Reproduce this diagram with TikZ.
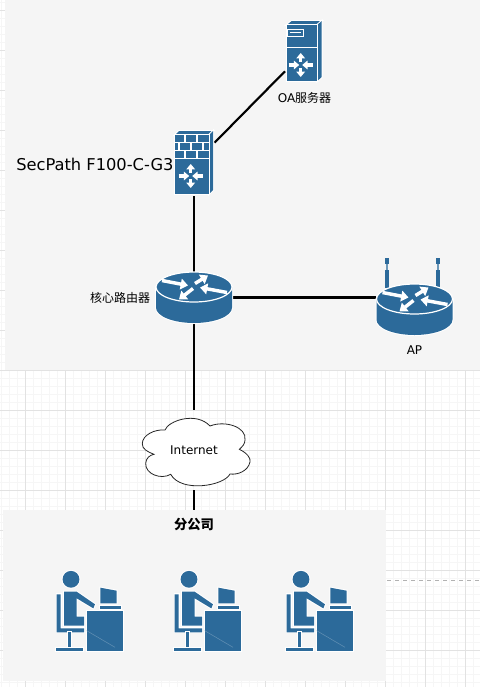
\documentclass[tikz,border=0pt]{standalone}
\usepackage{fontspec}
\setmainfont{DejaVu Sans}
\newfontfamily\cjk{Noto Sans CJK SC}
\usetikzlibrary{arrows.meta}
\definecolor{iconblue}{HTML}{2C6A9A}
\definecolor{panelgray}{HTML}{F5F5F5}
\definecolor{gridmajor}{HTML}{E2E2E2}
\definecolor{gridminor}{HTML}{F6F6F6}
\tikzset{
	icon/.style={fill=iconblue, preaction={draw=white, line width=1.5pt}},
	wharrow/.style={white, line width=2.3pt, -{Triangle[width=6.4pt,length=4pt]}},
	rtarrow/.style={white, line width=2.6pt, -{Triangle[width=8pt,length=5.5pt]}},
	anchorbox/.style={rectangle, inner sep=0pt, outer sep=0pt},
	link/.style={black, line width=1.6pt},
	lbl/.style={inner sep=0pt, font=\fontsize{9pt}{11pt}\selectfont},
	pics/arrowcross/.style={code={
		\draw[wharrow] (-12,0) -- (-1.5,0);
		\draw[wharrow] (12,0) -- (1.5,0);
		\draw[wharrow] (0,-3) -- (0,-12);
		\draw[wharrow] (0,3) -- (0,12);
	}},
	pics/routerpic/.style={code={
		\path[icon] (-38,-10.5) -- (-38,10) .. controls (-38,19) and (-20,25.5) .. (0,25.5)
			.. controls (20,25.5) and (38,19) .. (38,10) -- (38,-10.5) -- cycle;
		\path[fill=iconblue, draw=white, line width=0.9pt] (0,-10.5) ellipse (38 and 15);
		\draw[rtarrow] (-32,-17) -- (-6,-12);
		\draw[rtarrow] (1,-14) -- (14,-22);
		\draw[rtarrow] (33,-5) -- (6,-10);
		\draw[rtarrow] (-1,-9) -- (-15,2);
	}},
	pics/antennapic/.style={code={
		\fill[iconblue] (-2,0) rectangle (2,6);
		\fill[iconblue!70] (-1,6) rectangle (1,12);
		\fill[iconblue] (-2,12) rectangle (2,30);
	}},
	pics/staffpic/.style={code={
		\path[icon] (31,19.3) circle (8.4);
		\path[icon] (16.7,34.3) -- (20.7,34.3) -- (20.7,68.3) -- (44,68.3) -- (44,72.3) -- (16.7,72.3) -- cycle;
		\path[icon] (28,72.3) rectangle (31.3,87.7);
		\path[icon] (16,87.7) rectangle (43.3,90.7);
		\path[icon] (24,31.7) -- (36.7,31.7) -- (55,44.3) -- (53.3,48.3) -- (36.7,38.3) -- (36.7,56.7)
			-- (44,56.7) -- (44,65.7) -- (24,65.7) -- cycle;
		\path[icon] (46.7,51) rectangle (83.3,90.7);
		\draw[iconblue!75!white, line width=0.4pt] (46.7,70.7) -- (75,87.3);
		\path[icon] (60,45.7) rectangle (80.7,48.7);
		\path[icon] (60.3,27.7) -- (76.7,30.7) -- (76.7,43.3) -- (60.3,43.3) -- cycle;
	}},
}
\begin{document}
\begin{tikzpicture}[x=0.75pt, y=-0.75pt]
	\useasboundingbox (0,0) rectangle (480,687);
	% ==================== GRID ====================
	\begin{scope}
		\clip (0,0) rectangle (480,687);
		\foreach \gx in {1.7,9.7,...,481}
			\draw[gridminor, line width=0.75pt] (\gx,0) -- (\gx,687);
		\foreach \gy in {2.7,10.7,...,690}
			\draw[gridminor, line width=0.75pt] (0,\gy) -- (480,\gy);
		\foreach \gx in {25.7,65.7,...,481}
			\draw[gridmajor, line width=0.75pt] (\gx,0) -- (\gx,687);
		\foreach \gy in {10.7,50.7,...,690}
			\draw[gridmajor, line width=0.75pt] (0,\gy) -- (480,\gy);
	\end{scope}

	% ==================== PANELS ====================
	\fill[panelgray] (5,0) rectangle (480,370);
	\node[anchorbox, fill=panelgray, minimum width=287.25pt, minimum height=127.9pt] (branch) at (194.5,595.25) {};
	\coordinate (dashl) at (387,580);
	\coordinate (dashr) at (480,580);
	\draw[dashed, black!30, line width=0.75pt] (dashl) -- (dashr);

	% ==================== ANCHOR BOXES ====================
	\node[anchorbox, minimum width=28.5pt, minimum height=48pt] (srv) at (304,52) {};
	\node[anchorbox, minimum width=30.75pt, minimum height=48.75pt] (fw) at (194,163.5) {};
	\node[anchorbox, minimum width=58.5pt, minimum height=38.25pt] (router) at (194,297.5) {};
	\node[anchorbox, minimum width=58.5pt, minimum height=58pt] (ap) at (414.5,297.5) {};
	\node[anchorbox, minimum width=81pt, minimum height=60pt] (cloud) at (194,450) {};

	% ==================== LINKS ====================
	\draw[link] (fw) -- (srv);
	\draw[link] (fw) -- (router);
	\draw[link] (router) -- (ap);
	\draw[link] (router) -- (cloud);
	\draw[link] (cloud) -- (cloud |- branch.north);

	% ==================== SERVER ====================
	\begin{scope}[shift={(286.7,25)}]
		\path[icon] (0,0) -- (5,-4) -- (35,-4) -- (30.6,0) -- cycle;
		\path[icon] (30.6,0) -- (35,-4) -- (35,52) -- (30.6,56) -- cycle;
		\path[icon] (0,0) rectangle (30.6,22.7);
		\path[icon] (0,22.7) rectangle (30.6,56);
		\draw[white, line width=0.6pt] (1,4) rectangle (16.5,11);
		\draw[white, line width=0.6pt] (3,7.5) -- (14.5,7.5);
		\pic at (14,40) {arrowcross};
	\end{scope}

	% ==================== FIREWALL ====================
	\begin{scope}[shift={(175,135)}]
		\path[icon] (0,0) -- (4,-4) -- (38,-4) -- (34,0) -- cycle;
		\path[icon] (34,0) -- (38,-4) -- (38,55) -- (34,59) -- cycle;
		\path[icon] (0,0) rectangle (34,22.5);
		\path[icon] (0,24) rectangle (34,59);
		\draw[white, line width=0.8pt] (0,7.5) -- (34,7.5) (0,15.2) -- (34,15.2);
		\foreach \bx in {10,22}
			\draw[white, line width=0.8pt] (\bx,0) -- (\bx,7.5) (\bx,15.2) -- (\bx,22.5);
		\foreach \bx in {4,16,28}
			\draw[white, line width=0.8pt] (\bx,7.5) -- (\bx,15.2);
		\pic at (15.7,41) {arrowcross};
	\end{scope}

	% ==================== ROUTERS ====================
	\pic at (194,297.5) {routerpic};
	\pic at (387,258) {antennapic};
	\pic at (438,258) {antennapic};
	\pic at (414.5,309.5) {routerpic};

	% ==================== CLOUD ====================
	\draw[fill=white, draw=black!85, line width=0.6pt] (142.3,444)
		.. controls (142,435) and (155,429) .. (165,430)
		.. controls (168,421) and (196,411) .. (210,426)
		.. controls (225,420) and (247,427) .. (245,440)
		.. controls (245,444) and (242,447) .. (239.3,449.3)
		.. controls (247,453) and (251,458) .. (250,462)
		.. controls (248,471) and (238,475) .. (230,474)
		.. controls (224,486) and (181,493) .. (170.7,474.3)
		.. controls (161,480) and (145,474) .. (145.7,463.3)
		.. controls (146,458) and (150,455) .. (154,454.3)
		.. controls (148,452) and (142,449) .. (142.3,444) -- cycle;

	% ==================== STAFF ====================
	\pic at (40,560) {staffpic};
	\pic at (158,560) {staffpic};
	\pic at (270,560) {staffpic};

	% ==================== LABELS ====================
	\node[lbl] (srvlabel) at (304.5,97.5) {OA{\cjk 服务器}};
	\node[lbl, font=\fontsize{12.2pt}{14pt}\selectfont, anchor=west] (fwlabel) at (16,164) {SecPath F100-C-G3};
	\node[lbl] (routerlabel) at (120,297.5) {\cjk 核心路由器};
	\node[lbl] (aplabel) at (414.5,350) {AP};
	\node[lbl] at (194,450) (netlabel) {Internet};
	\node[lbl, font=\fontsize{10pt}{12pt}\selectfont\bfseries] (branchlabel) at (194,525) {\cjk 分公司};
\end{tikzpicture}
\end{document}
